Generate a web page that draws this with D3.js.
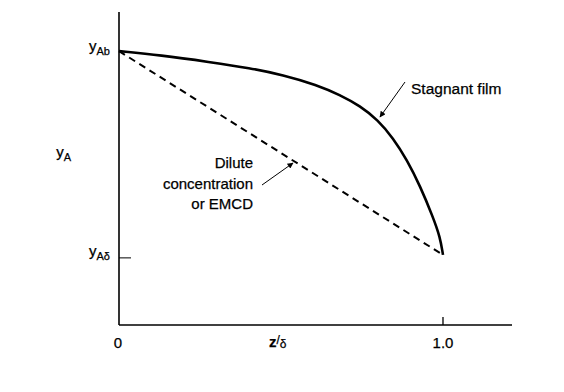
<!DOCTYPE html>
<html>
<head>
<meta charset="utf-8">
<script src="https://cdn.jsdelivr.net/npm/d3@7"></script>
<style>
  body { margin: 0; background: #fff; }
  text { font-family: "Liberation Sans", Arial, sans-serif; fill: #000; stroke: #000; stroke-width: 0.25; }
</style>
</head>
<body>
<svg id="chart"></svg>
<script>
// boundary mole fractions
const yAb = 0.875;
const yAd = 0.224;

// stagnant film profile
const filmZ = [0, 0.127, 0.281, 0.404, 0.506, 0.611, 0.682, 0.744, 0.799, 0.846, 0.889, 0.929, 0.969, 0.991, 1.0];
const filmY = [0.875, 0.862, 0.840, 0.821, 0.799, 0.767, 0.735, 0.700, 0.655, 0.597, 0.527, 0.445, 0.345, 0.281, 0.224];

// dilute / EMCD profile (straight line)
const diluteZ = [0, 1.0];
const diluteY = [0.875, 0.224];

const xTickVals = [0, 1.0];
const xTickLabels = ["0", "1.0"];

const width = 564;
const height = 392;

const svg = d3.select("#chart")
    .attr("width", width)
    .attr("height", height);

const xScale = d3.scaleLinear()
    .domain([0, 1.213])
    .range([119, 512]);

const yScale = d3.scaleLinear()
    .domain([0, 1])
    .range([325, 12]);

// arrowhead
svg.append("defs").append("marker")
    .attr("id", "arrow")
    .attr("viewBox", "0 0 10 10")
    .attr("refX", 9)
    .attr("refY", 5)
    .attr("markerWidth", 10)
    .attr("markerHeight", 6)
    .attr("markerUnits", "userSpaceOnUse")
    .attr("orient", "auto")
    .append("path")
    .attr("d", "M0,0 L10,5 L0,10 Z")
    .attr("fill", "#000");

// axes
svg.append("line")
    .attr("x1", xScale(0)).attr("x2", xScale(0))
    .attr("y1", yScale(1)).attr("y2", yScale(0))
    .attr("stroke", "#000").attr("stroke-width", 1.6);

svg.append("line")
    .attr("x1", xScale(0)).attr("x2", xScale(1.213))
    .attr("y1", yScale(0)).attr("y2", yScale(0))
    .attr("stroke", "#000").attr("stroke-width", 1.6);

// x ticks (pointing up) and labels
svg.selectAll(".xtick")
    .data(xTickVals.filter(d => d > 0))
    .enter()
    .append("line")
    .attr("class", "xtick")
    .attr("x1", d => xScale(d)).attr("x2", d => xScale(d))
    .attr("y1", yScale(0)).attr("y2", yScale(0) - 8)
    .attr("stroke", "#000").attr("stroke-width", 1.3);

svg.selectAll(".xlabel")
    .data(xTickVals)
    .enter()
    .append("text")
    .attr("class", "xlabel")
    .attr("x", d => xScale(d) - (d === 0 ? 1 : 0))
    .attr("y", 348)
    .attr("text-anchor", "middle")
    .style("font-size", "15px")
    .text((d, i) => xTickLabels[i]);

// yA-delta tick (pointing right)
svg.append("line")
    .attr("x1", xScale(0)).attr("x2", xScale(0) + 12)
    .attr("y1", yScale(yAd) + 3).attr("y2", yScale(yAd) + 3)
    .attr("stroke", "#000").attr("stroke-width", 1);

// y labels with subscripts
function subLabel(x, y, main, sub, size) {
    const t = svg.append("text")
        .attr("x", x)
        .attr("y", y)
        .attr("text-anchor", "end")
        .style("font-size", size + "px");
    t.append("tspan").text(main);
    t.append("tspan")
        .attr("dy", 4)
        .style("font-size", (size - 4) + "px")
        .text(sub);
    return t;
}

subLabel(110, yScale(yAb), "y", "Ab", 15);
subLabel(110, yScale(yAd) + 1, "y", "A\u03b4", 15);
subLabel(71, 157, "y", "A", 15);

// x axis title z/δ
const xt = svg.append("text")
    .attr("x", 269)
    .attr("y", 347)
    .style("font-size", "15px");
xt.append("tspan").style("font-weight", "bold").text("z");
xt.append("tspan").attr("dy", -3).style("font-size", "12px").text("/");
xt.append("tspan").attr("dy", 4).style("font-size", "12px").text("\u03b4");

// profiles
const line = d3.line()
    .x(d => xScale(d[0]))
    .y(d => yScale(d[1]))
    .curve(d3.curveBasis);

svg.append("path")
    .datum(filmZ.map((z, i) => [z, filmY[i]]))
    .attr("d", line)
    .attr("fill", "none")
    .attr("stroke", "#000")
    .attr("stroke-width", 2.6);

svg.append("path")
    .datum(diluteZ.map((z, i) => [z, diluteY[i]]))
    .attr("d", d3.line().x(d => xScale(d[0])).y(d => yScale(d[1])))
    .attr("fill", "none")
    .attr("stroke", "#000")
    .attr("stroke-width", 2)
    .attr("stroke-dasharray", "7,5");

// annotations
svg.append("text")
    .attr("x", 411)
    .attr("y", 94)
    .style("font-size", "15.5px")
    .text("Stagnant film");

svg.append("line")
    .attr("x1", 405).attr("y1", 82)
    .attr("x2", 380).attr("y2", 117)
    .attr("stroke", "#000").attr("stroke-width", 1)
    .attr("marker-end", "url(#arrow)");

const dil = svg.append("text")
    .attr("text-anchor", "end")
    .style("font-size", "15px");
["Dilute", "concentration", "or EMCD"].forEach((s, i) => {
    dil.append("tspan")
        .attr("x", 253)
        .attr("y", 168 + i * 20.5)
        .text(s);
});

svg.append("line")
    .attr("x1", 262).attr("y1", 185)
    .attr("x2", 293).attr("y2", 163)
    .attr("stroke", "#000").attr("stroke-width", 1)
    .attr("marker-end", "url(#arrow)");
</script>
</body>
</html>
